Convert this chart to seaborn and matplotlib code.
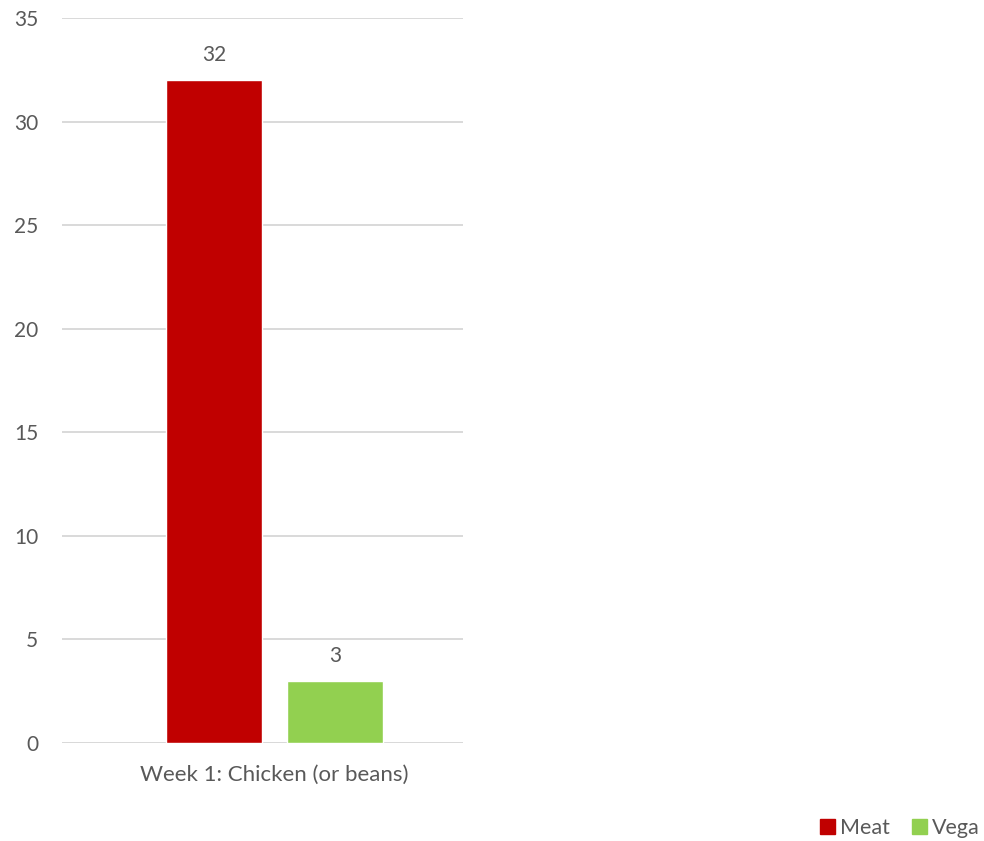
import matplotlib
matplotlib.use("Agg")
import matplotlib.pyplot as plt
import seaborn as sns
import pandas as pd

categories = ["Week 1: Chicken (or beans)"]
series = ["Meat", "Vega"]
meat_values = [32]
vega_values = [3]
colors = {"Meat": "#C00000", "Vega": "#92D050"}
y_ticks = [0, 5, 10, 15, 20, 25, 30, 35]

df = pd.DataFrame({
    "category": categories * 2,
    "series": ["Meat"] * len(meat_values) + ["Vega"] * len(vega_values),
    "value": meat_values + vega_values,
})

sns.set_theme(style="white")
plt.rcParams["font.family"] = ["Lato", "DejaVu Sans"]
text_color = "#595959"
grid_color = "#D9D9D9"

fig = plt.figure(figsize=(9.84, 8.41), dpi=100)
ax = fig.add_axes([62 / 984, 98 / 841, 401 / 984, 725 / 841])

sns.barplot(data=df, x="category", y="value", hue="series", palette=colors,
            width=0.8, gap=0.21, ax=ax, legend=False, saturation=1)

ax.set_ylim(0, 35)
ax.set_xlim(-0.700, 0.620)
ax.set_yticks(y_ticks)
ax.yaxis.grid(True, color=grid_color, linewidth=1.4)
ax.set_axisbelow(True)
for s in ax.spines.values():
    s.set_visible(False)
ax.axhline(0, color=grid_color, linewidth=1.4, zorder=0.5)
ax.set_xlabel("")
ax.set_ylabel("")
ax.tick_params(axis="both", length=0, labelsize=15, colors=text_color)
ax.tick_params(axis="y", pad=17)
ax.tick_params(axis="x", pad=16, labelsize=16)

for container in ax.containers:
    ax.bar_label(container, labels=[f"{v:g}" for v in container.datavalues],
                 padding=11, fontsize=15, color=text_color)

handles = [plt.Rectangle((0, 0), 1, 1, color=colors[s]) for s in series]
fig.legend(handles, series, loc="lower right", bbox_to_anchor=(1.008, -0.011),
           ncol=2, frameon=False, fontsize=15.5, labelcolor=text_color,
           handlelength=0.7, handleheight=0.7, handletextpad=0.25,
           columnspacing=1.0, borderaxespad=0.15)

fig.savefig("out.png", dpi=100)
